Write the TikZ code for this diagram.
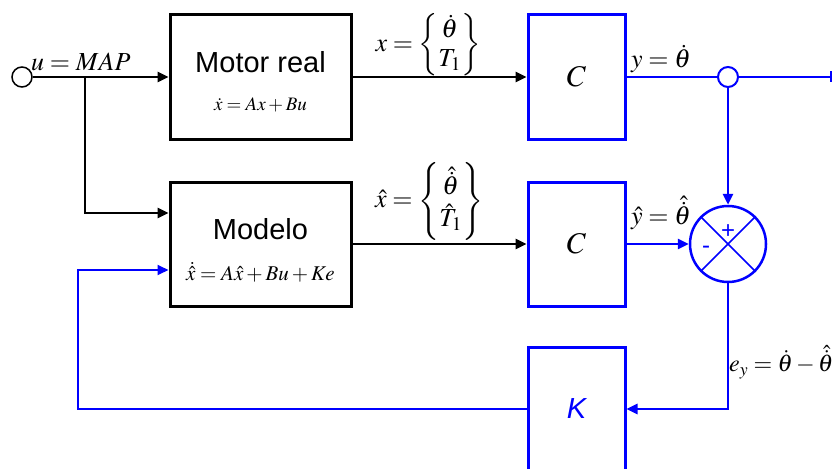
\documentclass[tikz,border=0pt]{standalone}
\usepackage{amsmath}
\usepackage{mathptmx}
\usepackage[no-math]{fontspec}
\newfontfamily\helv{Liberation Sans}
\usepackage{tikz}
\usetikzlibrary{arrows.meta,positioning,calc}
\definecolor{sig}{HTML}{0000FF}
\tikzset{
  block/.style={draw,line width=3pt,minimum width=181pt,minimum height=124pt,inner sep=0pt,fill=white},
  cblock/.style={draw=sig,line width=3pt,minimum width=97pt,minimum height=124pt,inner sep=0pt,fill=white},
  arr/.style={-{Triangle[length=11pt,width=10pt]},line width=2.5pt},
  barr/.style={arr,draw=sig},
  thinarr/.style={-{Triangle[length=11pt,width=10pt]},line width=1.8pt,draw=sig},
  port/.style={circle,draw,line width=1.5pt,minimum size=20pt,inner sep=0pt,fill=white},
  bigtxt/.style={font=\helv\fontsize{29}{32}\selectfont},
  eqtxt/.style={font=\fontsize{19}{21}\selectfont,inner sep=0pt},
  sigtxt/.style={font=\fontsize{26}{28}\selectfont,inner sep=0pt}
}
\begin{document}
\begin{tikzpicture}[x=1pt,y=-1pt]
  \useasboundingbox (0,0) rectangle (834,468);
  % blocks
  \node[block] (motor) at (260.5,77) {};
  \node[block] (model) at (260.5,244) {};
  \node[cblock] (c1) at (576.5,77) {};
  \node[cblock] (c2) at (576.5,244) {};
  \node[cblock] (kbox) at (576.5,409) {};
  \node[bigtxt] (motort) at ([yshift=15pt]motor.center) {Motor real};
  \node[eqtxt] (motore) at ([yshift=-28pt]motor.center) {$\dot{x} = Ax + Bu$};
  \node[eqtxt,font=\fontsize{21}{23}\selectfont] (modele) at ([yshift=-28pt]model.center) {$\dot{\hat{x}} = A\hat{x} + Bu + Ke$};
  \node[bigtxt] (modelt) at ([yshift=15pt]model.center) {Modelo};
  \node[font=\fontsize{30}{32}\selectfont] (c1t) at (c1.center) {$C$};
  \node[font=\fontsize{30}{32}\selectfont] (c2t) at (c2.center) {$C$};
  \node[bigtxt,text=sig] (kt) at (kbox.center) {\itshape K};
  % ports and summing point
  \node[port] (uin) at (22,77) {};
  \node[port,draw=sig,line width=2pt] (tap) at (728,77) {};
  \node[circle,draw=sig,line width=2.5pt,minimum size=76pt,inner sep=0pt] (sum) at (728,244) {};
  \draw[sig,line width=1.5pt] (sum.north west) -- (sum.south east);
  \draw[sig,line width=1.5pt] (sum.north east) -- (sum.south west);
  \node[text=sig,font=\helv\fontsize{24}{26}\selectfont] (plus) at (728,232) {+};
  \node[text=sig,font=\helv\fontsize{24}{26}\selectfont] (minus) at (706,250) {-};
  \coordinate (br) at (85,77);
  \coordinate (out) at (832,77);
  \coordinate (fbl) at (78,409);
  % connectors
  \draw[arr] (uin) -- (motor.west);
  \draw[arr] (br) |- ($(model.west)+(0,-31)$);
  \draw[arr] (motor.east) -- (c1.west);
  \draw[arr] (model.east) -- (c2.west);
  \draw[sig,line width=2.5pt] (c1.east) -- (tap.west);
  \draw[sig,line width=2.5pt,-{Bar[width=11pt,line width=2.5pt]}] (tap.east) -- (out);
  \draw[barr] (tap.south) -- (sum.north);
  \draw[barr] (c2.east) -- (sum.west);
  \draw[barr] (sum.south) |- (kbox.east);
  \draw[thinarr] (kbox.west) -- (fbl) |- ($(model.west)+(0,26)$);
  % signal labels
  \node[sigtxt,anchor=base west] (ulab) at (31,71) {$u = MAP$};
  \node[sigtxt] (xlab) at (428,45) {$x = \begin{Bmatrix}\dot{\theta}\\[1pt] T_1\end{Bmatrix}$};
  \node[sigtxt] (ylab) at (661,59) {$y = \dot{\theta}$};
  \node[sigtxt] (xhlab) at (429,201) {$\hat{x} = \begin{Bmatrix}\hat{\dot{\theta}}\\[1pt] \hat{T}_1\end{Bmatrix}$};
  \node[sigtxt] (yhlab) at (661,213) {$\hat{y} = \hat{\dot{\theta}}$};
  \node[sigtxt,font=\fontsize{24}{26}\selectfont,anchor=west] (elab) at (729,362) {$e_{y} = \dot{\theta} - \hat{\dot{\theta}}$};
\end{tikzpicture}
\end{document}
